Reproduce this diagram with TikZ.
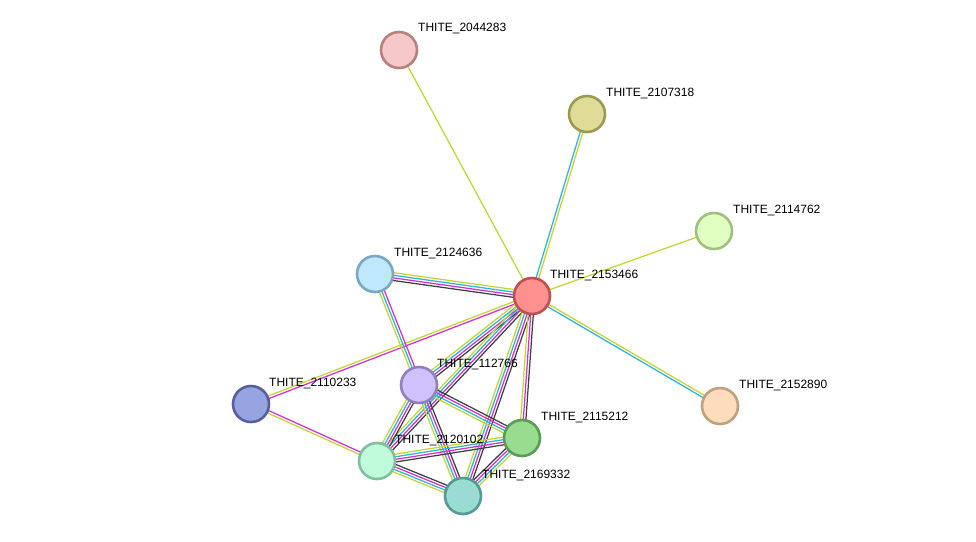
\documentclass[tikz,border=0pt]{standalone}
\usepackage{fontspec}
\setmainfont{Liberation Sans}
\usetikzlibrary{calc,backgrounds}
\definecolor{ey}{HTML}{C2D62E}
\definecolor{ec}{HTML}{2BB5DA}
\definecolor{em}{HTML}{D62ED6}
\definecolor{ek}{HTML}{404040}
\newcommand\medge[4]{%
 \foreach \c [count=\i] in {#4} {%
  \pgfmathsetmacro\off{(\i-(#3+1)/2)*2.6}%
  \draw[\c, line width=1.25pt] ($(#1.center)!\off pt!90:(#2.center)$) -- ($(#2.center)!\off pt!-90:(#1.center)$);
 }}
\tikzset{
 prot/.style={circle, minimum size=36pt, inner sep=0pt, line width=2.6pt},
 lbl/.style={anchor=west, inner sep=0pt, font=\fontsize{12}{14}\selectfont}
}
\begin{document}
\begin{tikzpicture}[x=1pt,y=-1pt]
\useasboundingbox (0,0) rectangle (976,541);
\node[prot, fill={rgb,255:red,255;green,144;blue,144}, draw={rgb,255:red,192;green,80;blue,80}] (n2153466) at (532,296) {};
\node[prot, fill={rgb,255:red,247;green,200;blue,200}, draw={rgb,255:red,184;green,128;blue,128}] (n2044283) at (399,50) {};
\node[prot, fill={rgb,255:red,222;green,220;blue,150}, draw={rgb,255:red,154;green,154;blue,80}] (n2107318) at (587,114) {};
\node[prot, fill={rgb,255:red,224;green,255;blue,192}, draw={rgb,255:red,160;green,192;blue,128}] (n2114762) at (714,231) {};
\node[prot, fill={rgb,255:red,192;green,232;blue,252}, draw={rgb,255:red,122;green,168;blue,196}] (n2124636) at (375,274) {};
\node[prot, fill={rgb,255:red,208;green,192;blue,252}, draw={rgb,255:red,144;green,128;blue,192}] (n112766) at (419,385) {};
\node[prot, fill={rgb,255:red,152;green,164;blue,224}, draw={rgb,255:red,85;green,96;blue,160}] (n2110233) at (251,404) {};
\node[prot, fill={rgb,255:red,253;green,220;blue,188}, draw={rgb,255:red,192;green,160;blue,128}] (n2152890) at (720,406) {};
\node[prot, fill={rgb,255:red,152;green,220;blue,144}, draw={rgb,255:red,90;green,156;blue,85}] (n2115212) at (522,438) {};
\node[prot, fill={rgb,255:red,192;green,252;blue,220}, draw={rgb,255:red,128;green,192;blue,160}] (n2120102) at (377,461) {};
\node[prot, fill={rgb,255:red,152;green,220;blue,212}, draw={rgb,255:red,85;green,154;blue,149}] (n2169332) at (463,496) {};
\begin{pgfonlayer}{background}
\medge{n2153466}{n2044283}{1}{ey}
\medge{n2153466}{n2107318}{2}{ey,ec}
\medge{n2153466}{n2114762}{1}{ey}
\medge{n2153466}{n2152890}{2}{ec,ey}
\medge{n2124636}{n2153466}{4}{ek,em,ec,ey}
\medge{n2110233}{n2153466}{2}{em,ey}
\medge{n112766}{n2153466}{4}{ek,em,ec,ey}
\medge{n2120102}{n2153466}{4}{ek,em,ec,ey}
\medge{n2169332}{n2153466}{4}{ek,em,ec,ey}
\medge{n2115212}{n2153466}{3}{ek,em,ey}
\medge{n2124636}{n112766}{3}{ey,ec,em}
\medge{n2110233}{n2120102}{2}{ey,em}
\medge{n112766}{n2115212}{4}{ey,ec,em,ek}
\medge{n112766}{n2120102}{4}{ey,ec,em,ek}
\medge{n112766}{n2169332}{4}{ey,ec,em,ek}
\medge{n2120102}{n2115212}{4}{ek,em,ec,ey}
\medge{n2120102}{n2169332}{4}{ey,ec,em,ek}
\medge{n2169332}{n2115212}{4}{ey,ec,em,ek}
\end{pgfonlayer}
\node[lbl] (l2153466) at (550,275) {THITE\_2153466};
\node[lbl] (l2044283) at (418,29) {THITE\_2044283};
\node[lbl] (l2107318) at (606,93) {THITE\_2107318};
\node[lbl] (l2114762) at (733,210) {THITE\_2114762};
\node[lbl] (l2124636) at (394,253) {THITE\_2124636};
\node[lbl] (l112766) at (437,364) {THITE\_112766};
\node[lbl] (l2110233) at (269,383) {THITE\_2110233};
\node[lbl] (l2152890) at (739,385) {THITE\_2152890};
\node[lbl] (l2115212) at (541,417) {THITE\_2115212};
\node[lbl] (l2120102) at (395,440) {THITE\_2120102};
\node[lbl] (l2169332) at (482,475) {THITE\_2169332};
\end{tikzpicture}
\end{document}
